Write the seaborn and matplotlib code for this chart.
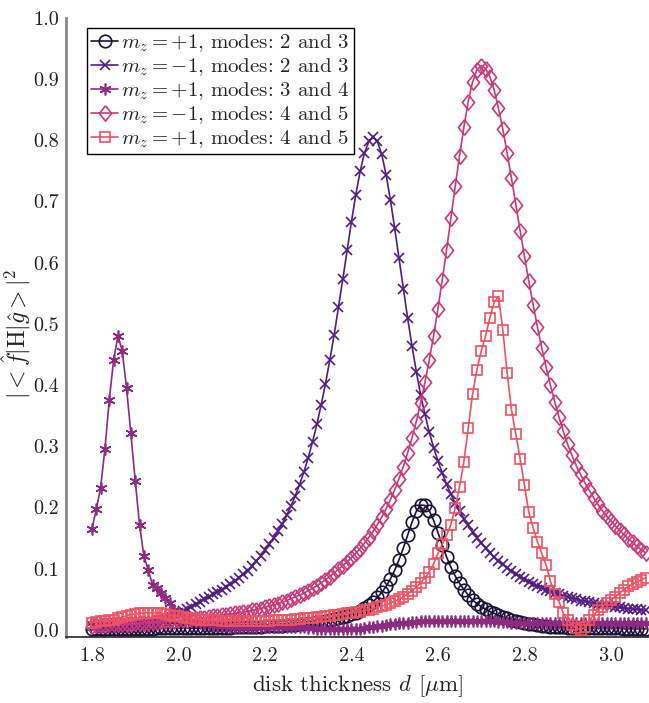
import numpy as np
import pandas as pd
import matplotlib
matplotlib.use("Agg")
import matplotlib.pyplot as plt
import seaborn as sns

# ---------------- data ----------------
thickness = np.round(np.arange(1.80, 3.0801, 0.01), 2)

m_plus_modes_2_3 = [
    0.002, 0.002, 0.002, 0.002, 0.002, 0.002, 0.002, 0.002, 0.002, 0.002,
    0.002, 0.002, 0.002, 0.002, 0.002, 0.003, 0.003, 0.003, 0.003, 0.003,
    0.003, 0.003, 0.003, 0.003, 0.003, 0.003, 0.003, 0.003, 0.003, 0.0035,
    0.0036, 0.0037, 0.0039, 0.0041, 0.0043, 0.0045, 0.0047, 0.0049, 0.0052, 0.0055,
    0.0057, 0.006, 0.0064, 0.0068, 0.0072, 0.0076, 0.0081, 0.0087, 0.0093, 0.0099,
    0.0106, 0.0115, 0.0124, 0.0134, 0.0145, 0.0157, 0.0172, 0.0189, 0.0208, 0.023,
    0.0253, 0.0283, 0.0317, 0.0357, 0.0405, 0.0462, 0.053, 0.0612, 0.071, 0.0833,
    0.0976, 0.1147, 0.134, 0.155, 0.176, 0.194, 0.204, 0.2035, 0.195, 0.179,
    0.159, 0.139, 0.119, 0.1025, 0.088, 0.076, 0.066, 0.057, 0.049, 0.043,
    0.038, 0.034, 0.030, 0.027, 0.024, 0.021, 0.019, 0.017, 0.015, 0.013,
    0.011, 0.010, 0.009, 0.008, 0.007, 0.006, 0.005, 0.005, 0.004, 0.004,
    0.003, 0.003, 0.003, 0.003, 0.003, 0.003, 0.003, 0.003, 0.003, 0.003,
    0.003, 0.003, 0.003, 0.002, 0.002, 0.002, 0.002, 0.002, 0.002,
]

m_minus_modes_2_3 = [
    0.006, 0.006, 0.006, 0.007, 0.007, 0.007, 0.007, 0.007, 0.008, 0.008,
    0.008, 0.009, 0.010, 0.011, 0.013, 0.015, 0.017, 0.019, 0.022, 0.025,
    0.028, 0.031, 0.034, 0.038, 0.042, 0.046, 0.050, 0.054, 0.058, 0.062,
    0.066, 0.070, 0.075, 0.080, 0.085, 0.091, 0.097, 0.104, 0.112, 0.121,
    0.1305, 0.140, 0.150, 0.161, 0.173, 0.187, 0.202, 0.219, 0.2376, 0.258,
    0.2815, 0.307, 0.336, 0.3676, 0.4025, 0.441, 0.482, 0.527, 0.573, 0.620,
    0.667, 0.711, 0.749, 0.779, 0.798, 0.805, 0.798, 0.777, 0.744, 0.703,
    0.656, 0.607, 0.557, 0.509, 0.464, 0.422, 0.384, 0.352, 0.323, 0.298,
    0.276, 0.256, 0.238, 0.222, 0.207, 0.194, 0.182, 0.171, 0.160, 0.151,
    0.142, 0.134, 0.126, 0.119, 0.113, 0.107, 0.101, 0.096, 0.091, 0.087,
    0.083, 0.079, 0.075, 0.072, 0.069, 0.066, 0.063, 0.061, 0.058, 0.056,
    0.054, 0.052, 0.050, 0.048, 0.047, 0.045, 0.044, 0.042, 0.041, 0.040,
    0.039, 0.038, 0.037, 0.036, 0.035, 0.034, 0.034, 0.033, 0.032,
]

m_plus_modes_3_4 = [
    0.165, 0.197, 0.232, 0.296, 0.375, 0.441, 0.480, 0.456, 0.395, 0.321,
    0.244, 0.172, 0.121, 0.098, 0.074, 0.068, 0.060, 0.052, 0.044, 0.033,
    0.028, 0.024, 0.020, 0.017, 0.014, 0.012, 0.010, 0.009, 0.008, 0.007,
    0.006, 0.006, 0.005, 0.005, 0.005, 0.004, 0.004, 0.004, 0.004, 0.004,
    0.004, 0.004, 0.004, 0.004, 0.004, 0.004, 0.004, 0.004, 0.004, 0.004,
    0.003, 0.003, 0.002, 0.002, 0.002, 0.001, 0.001, 0.001, 0.001, 0.001,
    0.001, 0.001, 0.002, 0.003, 0.004, 0.005, 0.006, 0.007, 0.008, 0.009,
    0.010, 0.011, 0.012, 0.012, 0.013, 0.013, 0.014, 0.014, 0.014, 0.015,
    0.015, 0.015, 0.015, 0.015, 0.015, 0.015, 0.015, 0.015, 0.015, 0.015,
    0.015, 0.014, 0.014, 0.014, 0.013, 0.013, 0.013, 0.012, 0.012, 0.012,
    0.012, 0.011, 0.011, 0.011, 0.011, 0.011, 0.011, 0.011, 0.011, 0.011,
    0.011, 0.011, 0.011, 0.011, 0.011, 0.011, 0.011, 0.011, 0.011, 0.011,
    0.011, 0.011, 0.012, 0.012, 0.012, 0.012, 0.012, 0.012, 0.012,
]

m_minus_modes_4_5 = [
    0.007, 0.008, 0.008, 0.008, 0.009, 0.009, 0.009, 0.010, 0.010, 0.010,
    0.011, 0.011, 0.012, 0.012, 0.013, 0.013, 0.014, 0.014, 0.015, 0.015,
    0.016, 0.016, 0.017, 0.018, 0.018, 0.019, 0.020, 0.021, 0.022, 0.023,
    0.024, 0.025, 0.026, 0.027, 0.028, 0.029, 0.030, 0.032, 0.033, 0.035,
    0.037, 0.039, 0.041, 0.043, 0.045, 0.048, 0.051, 0.054, 0.057, 0.060,
    0.064, 0.068, 0.072, 0.077, 0.082, 0.087, 0.093, 0.099, 0.105, 0.111,
    0.118, 0.125, 0.133, 0.1416, 0.151, 0.161, 0.172, 0.184, 0.198, 0.2127,
    0.229, 0.247, 0.267, 0.2895, 0.314, 0.341, 0.371, 0.405, 0.441, 0.481,
    0.525, 0.572, 0.621, 0.673, 0.725, 0.775, 0.822, 0.863, 0.895, 0.915,
    0.922, 0.917, 0.904, 0.882, 0.852, 0.818, 0.779, 0.738, 0.695, 0.6525,
    0.6106, 0.570, 0.5315, 0.495, 0.461, 0.429, 0.400, 0.3727, 0.3475, 0.3244,
    0.303, 0.285, 0.268, 0.254, 0.240, 0.228, 0.216, 0.205, 0.195, 0.186,
    0.178, 0.170, 0.163, 0.156, 0.149, 0.143, 0.137, 0.131, 0.126,
]

m_plus_modes_4_5 = [
    0.012, 0.013, 0.014, 0.015, 0.016, 0.017, 0.019, 0.021, 0.023, 0.025,
    0.026, 0.027, 0.028, 0.028, 0.028, 0.028, 0.027, 0.026, 0.025, 0.023,
    0.022, 0.021, 0.020, 0.019, 0.018, 0.017, 0.017, 0.016, 0.016, 0.016,
    0.015, 0.015, 0.015, 0.015, 0.015, 0.015, 0.015, 0.015, 0.015, 0.015,
    0.015, 0.015, 0.016, 0.016, 0.016, 0.017, 0.017, 0.018, 0.018, 0.019,
    0.019, 0.020, 0.021, 0.021, 0.022, 0.023, 0.024, 0.025, 0.026, 0.027,
    0.028, 0.029, 0.030, 0.032, 0.033, 0.035, 0.037, 0.039, 0.041, 0.044,
    0.047, 0.050, 0.054, 0.059, 0.064, 0.070, 0.077, 0.085, 0.095, 0.108,
    0.125, 0.140, 0.155, 0.172, 0.200, 0.234, 0.275, 0.330, 0.385, 0.425,
    0.455, 0.480, 0.510, 0.535, 0.545, 0.490, 0.420, 0.360, 0.320, 0.280,
    0.237, 0.193, 0.167, 0.144, 0.125, 0.106, 0.080, 0.058, 0.046, 0.027,
    0.016, 0.008, 0.003, 0.000, 0.005, 0.016, 0.024, 0.033, 0.038, 0.044,
    0.049, 0.054, 0.060, 0.066, 0.071, 0.075, 0.078, 0.082, 0.085,
]

series_labels = [
    r"$m_z=+1$, modes: 2 and 3",
    r"$m_z=-1$, modes: 2 and 3",
    r"$m_z=+1$, modes: 3 and 4",
    r"$m_z=-1$, modes: 4 and 5",
    r"$m_z=+1$, modes: 4 and 5",
]
series_values = [m_plus_modes_2_3, m_minus_modes_2_3, m_plus_modes_3_4,
                 m_minus_modes_4_5, m_plus_modes_4_5]

x_ticks = [1.8, 2.0, 2.2, 2.4, 2.6, 2.8, 3.0]
y_ticks = [0.0, 0.1, 0.2, 0.3, 0.4, 0.5, 0.6, 0.7, 0.8, 0.9, 1.0]

# ---------------- style ----------------
colors = ["#1b1237", "#521b87", "#8e2a82", "#c9397a", "#ee5162"]
diamond = [(0, 1), (0.8, 0), (0, -1), (-0.8, 0), (0, 1)]
markers = ["o", "x", (6, 2, 0), diamond, "s"]
msizes = [9, 6.5, 8.5, 11, 6.8]
hollow_flags = [True, False, False, True, True]

sns.set_style("white")
plt.rcParams["font.family"] = ["cmr10", "DejaVu Serif"]
plt.rcParams["mathtext.fontset"] = "cm"
plt.rcParams["axes.formatter.use_mathtext"] = True
plt.rcParams["axes.unicode_minus"] = False

fig = plt.figure(figsize=(6.49, 7.03), dpi=100)
ax = fig.add_axes([0.1017, 0.094, 0.8983, 0.8806])

for lab, vals, col, mk, ms, hollow in zip(series_labels, series_values, colors,
                                          markers, msizes, hollow_flags):
    df = pd.DataFrame({"d": thickness, "v": vals})
    sns.lineplot(data=df, x="d", y="v", ax=ax, color=col, label=lab,
                 marker=mk, markersize=ms, linewidth=1.2,
                 markeredgecolor=col, markeredgewidth=1.2,
                 markerfacecolor="none" if hollow else col)

ax.set_xlim(1.74, 3.088)
ax.set_ylim(-0.0114, 1.0)
ax.set_xticks(x_ticks)
ax.set_xticklabels([f"{t:.1f}" for t in x_ticks])
ax.set_yticks(y_ticks)
ax.set_yticklabels([f"{t:.1f}" for t in y_ticks])
ax.tick_params(axis="both", direction="in", labelsize=14.5, length=5,
               width=1.0, colors="#333333")
ax.tick_params(axis="y", colors="#888888", labelcolor="#222222", pad=5)
ax.tick_params(axis="x", colors="#888888", labelcolor="#222222", pad=7)

for s in ["top", "right"]:
    ax.spines[s].set_visible(False)
ax.spines["left"].set_color("#8a8a8a")
ax.spines["left"].set_linewidth(2.0)
ax.spines["bottom"].set_color("#222222")
ax.spines["bottom"].set_linewidth(1.2)

ax.set_xlabel(r"disk thickness $d$ [$\mu$m]", fontsize=16.5, color="#222222",
              labelpad=6)
ax.set_ylabel(r"$|<\hat{f}|\mathrm{H}|\hat{g}>|^2$", fontsize=17,
              color="#222222")
ax.yaxis.set_label_coords(-0.056, 0.49)

leg = ax.legend(loc="upper left", bbox_to_anchor=(0.036, 0.983), fontsize=15,
                frameon=True, fancybox=False, framealpha=1, edgecolor="black",
                handlelength=1.3, handletextpad=0.15, borderpad=0.2,
                labelspacing=0.1, borderaxespad=0.0)
leg.get_frame().set_linewidth(1.0)

fig.savefig("out.png", dpi=100)
